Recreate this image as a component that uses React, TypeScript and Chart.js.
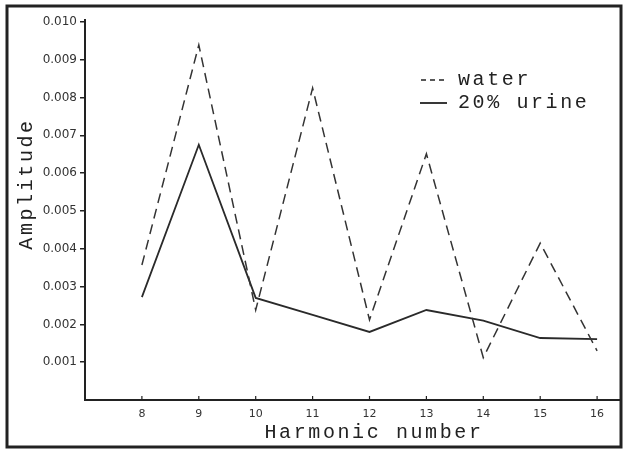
import React, { useEffect, useRef } from "react";
import { Chart, registerables } from "chart.js";

Chart.register(...registerables);

const harmonics = [8, 9, 10, 11, 12, 13, 14, 15, 16];
const water = [0.00357, 0.00939, 0.00238, 0.00825, 0.00212, 0.00651, 0.00112, 0.00415, 0.0013];
const urine = [0.00272, 0.00675, 0.0027, 0.00225, 0.0018, 0.00238, 0.0021, 0.00164, 0.00161];
const yTicks = [0.001, 0.002, 0.003, 0.004, 0.005, 0.006, 0.007, 0.008, 0.009, 0.01];
const xTicks = harmonics;
const seriesNames = ["water", "20% urine"];
const xTitle = "Harmonic number";
const yTitle = "Amplitude";

const INK = "#222";
const TITLE_FONT = '20px "Liberation Mono"';

const decorPlugin = {
  id: "decor",
  afterDraw(chart: any) {
    const ctx = chart.ctx as CanvasRenderingContext2D;
    const xs = chart.scales.x;
    const area = chart.chartArea;
    ctx.save();
    // inner tick marks on x axis
    ctx.strokeStyle = INK;
    ctx.lineWidth = 1.2;
    xTicks.forEach((v) => {
      const px = xs.getPixelForValue(v);
      ctx.beginPath();
      ctx.moveTo(px, area.bottom);
      ctx.lineTo(px, area.bottom - 4);
      ctx.stroke();
    });
    // frame
    ctx.lineWidth = 3;
    ctx.strokeStyle = INK;
    ctx.strokeRect(7, 6, 614, 441);
    // titles
    ctx.fillStyle = INK;
    ctx.font = TITLE_FONT;
    (ctx as any).letterSpacing = "2.6px";
    ctx.textAlign = "center";
    ctx.textBaseline = "middle";
    ctx.fillText(xTitle, 374, 433);
    ctx.save();
    ctx.translate(27, 184);
    ctx.rotate(-Math.PI / 2);
    ctx.fillText(yTitle, 0, 0);
    ctx.restore();
    // legend
    ctx.textAlign = "left";
    ctx.fillText(seriesNames[0], 458, 80);
    ctx.fillText(seriesNames[1], 458, 103);
    ctx.lineWidth = 1.5;
    ctx.setLineDash([5, 4]);
    ctx.beginPath();
    ctx.moveTo(421, 80);
    ctx.lineTo(447, 80);
    ctx.stroke();
    ctx.setLineDash([]);
    ctx.lineWidth = 1.8;
    ctx.beginPath();
    ctx.moveTo(420, 103);
    ctx.lineTo(447, 103);
    ctx.stroke();
    ctx.restore();
  },
};

export default function App() {
  const ref = useRef<HTMLCanvasElement>(null);
  useEffect(() => {
    document.body.style.margin = "0";
    const chart = new Chart(ref.current!, {
      type: "line",
      data: {
        datasets: [
          {
            label: seriesNames[0],
            data: harmonics.map((h, i) => ({ x: h, y: water[i] })),
            borderColor: "#333",
            borderWidth: 1.5,
            borderDash: [10, 6],
            pointRadius: 0,
            tension: 0,
            fill: false,
          },
          {
            label: seriesNames[1],
            data: harmonics.map((h, i) => ({ x: h, y: urine[i] })),
            borderColor: "#2a2a2a",
            borderWidth: 1.8,
            pointRadius: 0,
            tension: 0,
            fill: false,
          },
        ],
      },
      options: {
        responsive: false,
        animation: false,
        layout: { padding: { left: 0, top: 20, right: 4, bottom: 0 } },
        plugins: { legend: { display: false }, tooltip: { enabled: false } },
        scales: {
          x: {
            type: "linear",
            min: 7,
            max: 16.42,
            afterBuildTicks: (s: any) => {
              s.ticks = xTicks.map((v) => ({ value: v }));
            },
            afterFit: (s: any) => {
              s.height = 50;
            },
            grid: { display: false, drawTicks: false },
            border: { display: true, color: INK, width: 2 },
            ticks: {
              color: "#333",
              font: { family: "DejaVu Sans", size: 11 },
              padding: 8,
              maxRotation: 0,
              autoSkip: false,
              callback: (v: any) => String(v),
            },
          },
          y: {
            type: "linear",
            min: 0,
            max: 0.01005,
            afterBuildTicks: (s: any) => {
              s.ticks = yTicks.map((v) => ({ value: v }));
            },
            afterFit: (s: any) => {
              s.width = 85;
            },
            grid: {
              display: true,
              drawOnChartArea: false,
              drawTicks: true,
              tickLength: 5,
              color: INK,
              lineWidth: 1.5,
            },
            border: { display: true, color: INK, width: 2 },
            ticks: {
              color: "#333",
              font: { family: "DejaVu Sans", size: 12 },
              padding: 3,
              autoSkip: false,
              callback: (v: any) => Number(v).toFixed(3),
            },
          },
        },
      },
      plugins: [decorPlugin],
    });
    return () => chart.destroy();
  }, []);
  return (
    <div style={{ position: "fixed", left: 0, top: 0, width: 625, height: 450, background: "#fff" }}>
      <canvas ref={ref} width={625} height={450} />
    </div>
  );
}
